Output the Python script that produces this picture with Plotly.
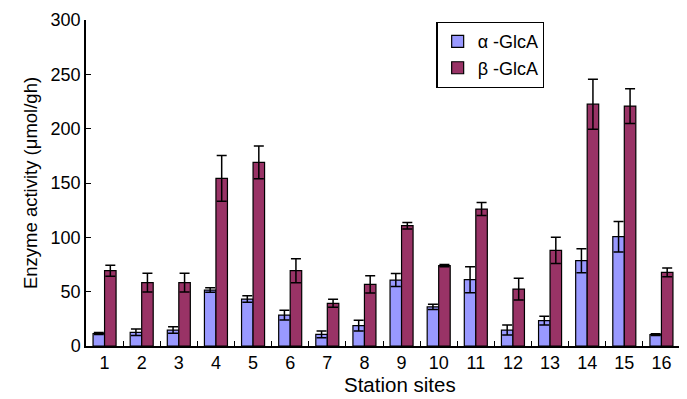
import plotly.graph_objects as go

sites = [str(i) for i in range(1, 17)]
alpha_vals = [11.5, 12.6, 14.7, 51.5, 43.2, 28.5, 10.7, 18.7, 60.7, 36, 61, 14.7, 23.3, 78.5, 100.6, 10.5]
alpha_err = [1, 3, 3, 2, 3, 4.5, 3, 5, 6, 2.5, 12, 4.6, 4, 11, 14, 0.8]
beta_vals = [69.3, 58.3, 58.3, 154.2, 169, 69.3, 39.3, 56.7, 110.7, 74, 126, 52.4, 88, 222.5, 220.8, 67.8]
beta_err = [5, 8.7, 8.7, 21, 15, 11, 3.7, 8, 3, 1, 6, 10, 12, 23, 16, 4]

font = "Liberation Sans, Arial, sans-serif"

fig = go.Figure()
fig.add_trace(go.Bar(
    x=sites, y=alpha_vals, name="α -GlcA",
    marker=dict(color="#9999FF", line=dict(color="black", width=1.2)),
    error_y=dict(type="data", array=alpha_err, color="black", thickness=1.5, width=5),
))
fig.add_trace(go.Bar(
    x=sites, y=beta_vals, name="β -GlcA",
    marker=dict(color="#993366", line=dict(color="black", width=1.2)),
    error_y=dict(type="data", array=beta_err, color="black", thickness=1.5, width=5),
))

fig.update_layout(
    width=679, height=391,
    margin=dict(l=78, r=7, t=12, b=53, autoexpand=False),
    barmode="group", bargap=0.38, bargroupgap=0,
    plot_bgcolor="white", paper_bgcolor="white",
    font=dict(family=font, size=18, color="black"),
    legend=dict(
        x=0.59, y=0.994, xanchor="left", yanchor="top",
        bordercolor="black", borderwidth=1.2, bgcolor="white",
        font=dict(size=18), itemwidth=30,
        tracegroupgap=0,
    ),
    xaxis=dict(
        type="category", showline=True, linecolor="black", linewidth=1.5,
        ticks="inside", tickson="boundaries", ticklen=5, tickcolor="black", tickwidth=1.2,
        tickfont=dict(size=18), showgrid=False,
    ),
    yaxis=dict(
        range=[0, 300], tickvals=[0, 50, 100, 150, 200, 250, 300],
        showline=True, linecolor="black", linewidth=1.5,
        ticks="inside", ticklen=5, tickcolor="black", tickwidth=1.2,
        title=dict(text="Enzyme activity (μmol/gh)", font=dict(size=18.5), standoff=8),
        tickfont=dict(size=18), showgrid=False, zeroline=False,
    ),
    annotations=[dict(
        text="Station sites", xref="paper", yref="paper", x=0.529, y=-0.117,
        xanchor="center", yanchor="middle", showarrow=False,
        font=dict(size=20.5),
    )],
)

fig.write_html("out.html")
